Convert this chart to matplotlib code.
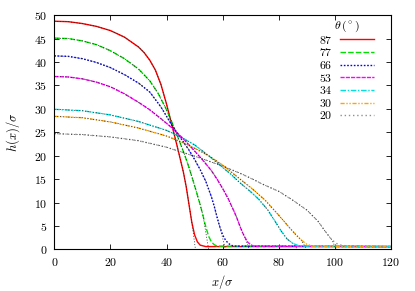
import numpy as np
import matplotlib.pyplot as plt

plt.rcParams['mathtext.fontset'] = 'cm'
plt.rcParams['font.family'] = 'serif'
plt.rcParams['font.serif'] = ['DejaVu Serif']

# contact angles (degrees) and simulated profiles h(x)/sigma
angles = ['87', '77', '66', '53', '34', '30', '20']

x87 = [0, 5, 10, 15, 20, 25, 30, 32, 34, 36, 38, 40, 42, 44, 46, 47, 48, 49, 50, 51, 52, 54, 120]
h87 = [48.7, 48.6, 48.2, 47.6, 46.7, 45.3, 43.2, 42.0, 40.4, 38.3, 35.2, 31.0, 26.3, 21.5, 16.5, 13.4, 9.6, 5.8, 3.1, 1.6, 0.9, 0.6, 0.6]

x77 = [0, 5, 10, 15, 20, 25, 30, 34, 37, 40, 42, 44, 46, 48, 50, 52, 53, 54, 55, 56, 57, 58, 120]
h77 = [45.1, 45.0, 44.5, 43.7, 42.4, 40.7, 38.5, 36.0, 33.3, 29.8, 27.0, 24.0, 20.9, 17.5, 13.6, 9.5, 7.2, 4.8, 2.8, 1.6, 1.0, 0.7, 0.6]

x66 = [0, 5, 10, 15, 20, 25, 30, 34, 38, 42, 45, 48, 50, 52, 54, 56, 57, 58, 59, 60, 61, 62, 63, 64, 120]
h66 = [41.3, 41.2, 40.7, 39.9, 38.8, 37.3, 35.5, 33.6, 30.4, 26.4, 23.8, 21.2, 19.2, 17.0, 14.5, 11.2, 9.2, 6.9, 4.8, 3.1, 2.0, 1.3, 0.9, 0.7, 0.6]

x53 = [0, 5, 10, 15, 20, 25, 30, 34, 38, 42, 46, 50, 53, 56, 58, 60, 62, 64, 65, 66, 67, 68, 69, 70, 71, 120]
h53 = [36.9, 36.8, 36.4, 35.7, 34.7, 33.2, 31.4, 29.8, 27.9, 25.9, 23.6, 21.0, 19.0, 16.8, 15.0, 13.0, 10.8, 8.2, 6.8, 5.2, 3.7, 2.5, 1.5, 1.0, 0.7, 0.6]

x34 = [0, 10, 20, 30, 40, 45, 50, 55, 60, 63, 66, 70, 73, 76, 79, 81, 83, 85, 87, 89, 120]
h34 = [29.9, 29.6, 28.7, 27.3, 25.4, 24.0, 22.3, 20.0, 17.5, 16.0, 14.3, 12.3, 10.6, 8.5, 5.7, 3.8, 2.2, 1.3, 0.8, 0.7, 0.6]

x30 = [0, 10, 20, 30, 40, 45, 50, 55, 60, 66, 70, 75, 80, 83, 86, 88, 90, 92, 120]
h30 = [28.4, 28.1, 27.2, 25.9, 24.2, 23.0, 21.6, 20.0, 18.0, 15.1, 13.2, 10.6, 7.3, 5.2, 3.2, 2.0, 1.1, 0.7, 0.6]

x20 = [0, 10, 20, 30, 40, 50, 60, 66, 70, 75, 80, 85, 90, 94, 97, 99, 101, 103, 120]
h20 = [24.7, 24.5, 24.0, 23.2, 21.8, 19.9, 17.8, 16.3, 15.2, 13.7, 12.4, 10.5, 8.4, 6.0, 3.5, 2.0, 1.1, 0.8, 0.6]

# where the fitted profiles reach the substrate
fit_end = [50.3, 55.0, 61.0, 69.5, 86.8, 90.0, 100.5]

xs = [x87, x77, x66, x53, x34, x30, x20]
hs = [h87, h77, h66, h53, h34, h30, h20]
colors = ['#ff0000', '#00e000', '#0000ff', '#ff00ff', '#00e0e0', '#ffa500', '#909090']
styles = ['-', (0, (4, 1.5)), (0, (1.2, 1.2)), (0, (3, 0.8)),
          (0, (4, 1.2, 1, 1.2)), (0, (3, 1.2, 1, 1.2, 1, 1.2)), (0, (1, 2))]

fig = plt.figure(figsize=(4.15, 2.91), dpi=100)
ax = fig.add_axes([0.131, 0.143, 0.811, 0.805])

for x, h, c, ls, lab in zip(xs, hs, colors, styles, angles):
    ax.plot(x, h, color=c, ls=ls, lw=1.0, label=f'${lab}$')

for x, h, xe in zip(xs, hs, fit_end):
    x = np.array(x)
    h = np.array(h)
    keep = x < xe - 1.2
    ax.plot(np.append(x[keep], xe), np.append(h[keep], 0), color='#202020',
            ls=(0, (1.5, 2.5)), lw=0.5)

ax.set_xlim(0, 120)
ax.set_ylim(0, 50)
xt = np.arange(0, 121, 20)
yt = np.arange(0, 51, 5)
ax.set_xticks(xt, [f'${v}$' for v in xt])
ax.set_yticks(yt, [f'${v}$' for v in yt])
ax.tick_params(direction='in', top=True, right=True, length=3.5, width=0.6,
               labelsize=8.5, pad=5)
for s in ax.spines.values():
    s.set_linewidth(0.8)
ax.set_xlabel(r'$x/\sigma$', fontsize=9, labelpad=3)
ax.set_ylabel(r'$h(x)/\sigma$', fontsize=9, labelpad=9)

ax.legend(loc='upper right', bbox_to_anchor=(0.96, 1.0), frameon=False,
          markerfirst=False, fontsize=8.5, title=r'$\theta\,(^\circ)$',
          title_fontsize=8.5, handlelength=2.9, labelspacing=-0.03,
          borderaxespad=0, borderpad=0.3, handletextpad=0.6)

fig.savefig('out.png', dpi=100)
